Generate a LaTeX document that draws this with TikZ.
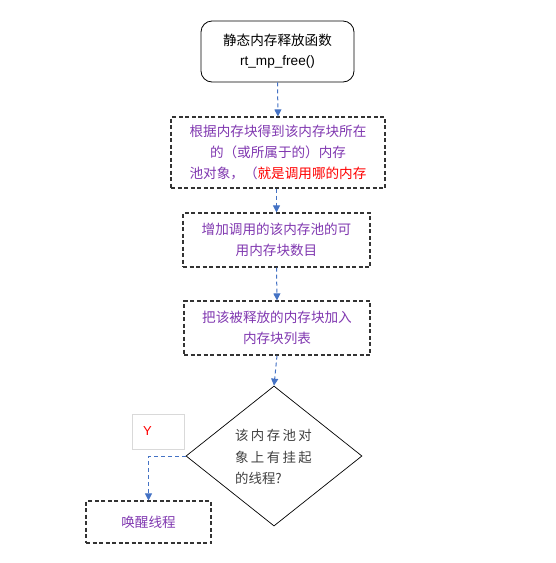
\documentclass[tikz,border=0pt]{standalone}
\usepackage{fontspec}
\setmainfont{Liberation Sans}
\newfontfamily\cjk{Noto Sans CJK SC}
\newfontfamily\cjksp[LetterSpace=18]{Noto Sans CJK SC}
\usetikzlibrary{shapes.geometric,arrows.meta}
\definecolor{arrblue}{HTML}{4472C4}
\definecolor{txtpurple}{HTML}{8038B0}
\definecolor{boxgray}{HTML}{333333}
\definecolor{ygray}{HTML}{D9D9D9}
\definecolor{diatext}{HTML}{404040}
\tikzset{
  arr/.style={draw=arrblue, line width=1pt, dash pattern=on 4pt off 3pt, -{Triangle[width=7pt,length=7pt]}},
  dbox/.style={draw=boxgray, line width=1.1pt, dash pattern=on 4pt off 2.5pt, align=center, text=txtpurple, font=\cjk\fontsize{13.6}{21}\selectfont, inner sep=0pt},
  startbox/.style={draw=black, line width=0.8pt, rounded corners=11pt, align=center, font=\fontsize{13.6}{20}\selectfont, inner sep=0pt},
  dia/.style={diamond, draw=black, line width=0.7pt, inner sep=0pt, minimum width=176pt, minimum height=140pt, aspect=1.257},
  ybox/.style={draw=ygray, line width=0.6pt, text width=30pt, align=left, inner xsep=11pt, minimum height=35pt, text=red, font=\fontsize{13}{15}\selectfont},
}
\begin{document}
\begin{tikzpicture}[x=1pt,y=-1pt]
\useasboundingbox (0,0) rectangle (555,563);
\node[startbox, minimum width=153pt, minimum height=61pt] (start) at (277.5,51.5) {{\cjk 静态内存释放函数}\\rt\_mp\_free()};
\node[dbox, minimum width=214pt, minimum height=71pt] (b1) at (278,152.5) {根据内存块得到该内存块所在\\的（或所属于的）内存\\池对象，（\textcolor{red}{就是调用哪的内存}};
\node[dbox, minimum width=187pt, minimum height=54pt] (b2) at (276.5,240) {增加调用的该内存池的可\\用内存块数目};
\node[dbox, minimum width=186pt, minimum height=54pt] (b3) at (277,328) {把该被释放的内存块加入\\内存块列表};
\node[dia] (d) at (274,456) {};
\node[align=left, text=diatext, font=\cjksp\fontsize{13.4}{21.5}\selectfont, inner sep=0pt, anchor=west] (dt) at (235,457) {该内存池对\\象上有挂起\\{\cjk 的线程?}};
\node[ybox] (y) at (158,431.5) {Y};
\node[dbox, minimum width=125pt, minimum height=42pt] (w) at (148.5,522) {唤醒线程};
\draw[arr] (start.south) -- (b1.north);
\draw[arr] (b1.south -| b2.north) -- (b2.north);
\draw[arr] (b2.south) -- (b3.north);
\draw[arr] (b3.south) -- (d.north);
\draw[arr] (d.west) -| (w.north);
\end{tikzpicture}
\end{document}
